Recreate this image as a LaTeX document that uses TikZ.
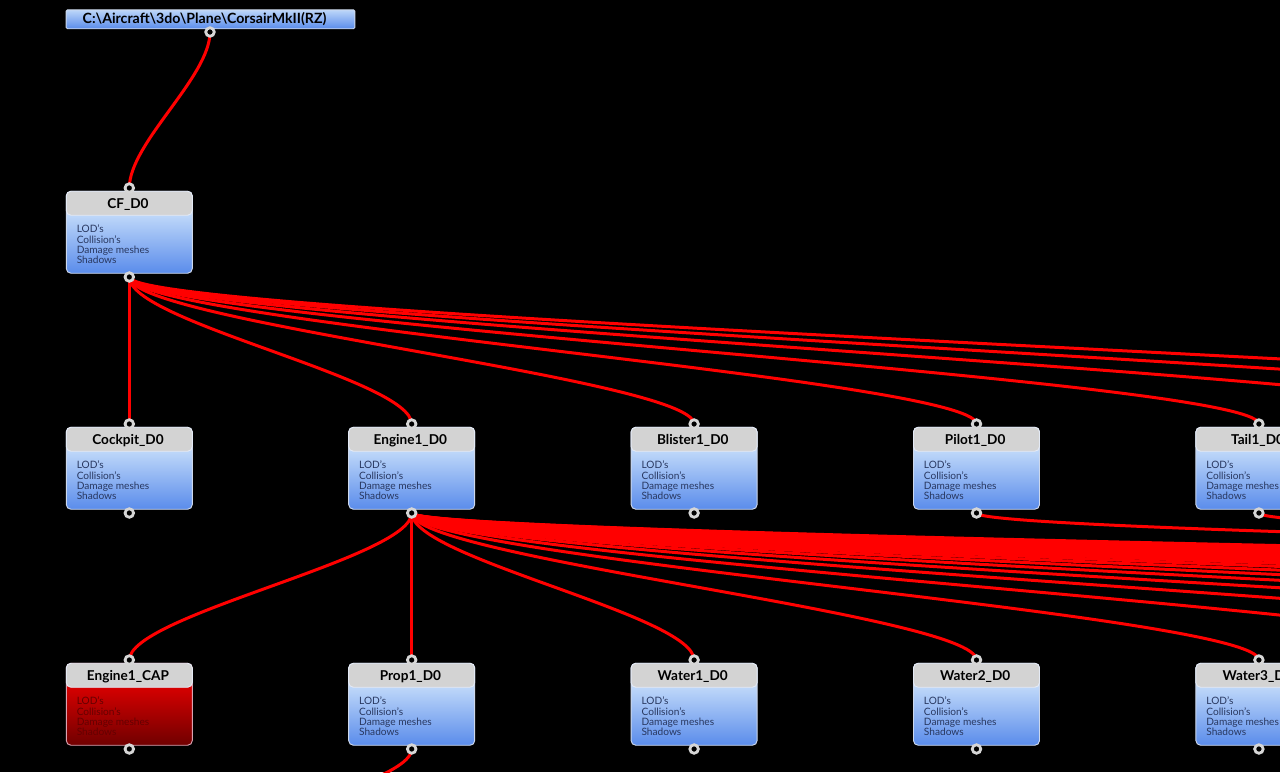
\documentclass[tikz,border=0pt]{standalone}
\usepackage{xcolor}
\usepackage{fontspec}
\usepackage{tikz}
\usetikzlibrary{calc,positioning,backgrounds}
\setmainfont{Lato}
\definecolor{headColor}{RGB}{211, 211, 211}
\definecolor{edgeColor}{RGB}{205, 216, 236}
\definecolor{blueTop}{RGB}{231, 246, 255}
\definecolor{blueBottom}{RGB}{90, 140, 235}
\definecolor{redTop}{RGB}{255, 0, 0}
\definecolor{redBottom}{RGB}{112, 0, 0}
\definecolor{listBlue}{RGB}{40, 55, 95}
\definecolor{listRed}{RGB}{100, 0, 0}
\definecolor{wireColor}{RGB}{255, 0, 0}
\definecolor{portColor}{RGB}{214, 214, 214}
\tikzset{
    lodbody/.style={draw=edgeColor, line width=0.7pt, rounded corners=3.5pt, minimum width=94.5pt, minimum height=61.5pt, inner sep=0pt, top color=blueTop, bottom color=blueBottom},
    lodbodyred/.style={lodbody, draw=red!25!edgeColor, top color=redTop, bottom color=redBottom},
    lodhead/.style={fill=headColor, draw=edgeColor!55!white, line width=0.7pt, rounded corners=3.5pt, minimum width=94.5pt, minimum height=18pt, inner sep=0pt, text height=8.4pt, text depth=0pt, font=\fontsize{10.2}{12}\bfseries\selectfont, text=black},
    lodlist/.style={align=left, inner sep=0pt, font=\fontsize{7.6}{7.7}\selectfont, text=listBlue},
    lodlistred/.style={lodlist, text=listRed},
    filebox/.style={draw=edgeColor, line width=0.7pt, rounded corners=1pt, minimum width=216.5pt, minimum height=14.2pt, inner sep=0pt, top color=blueTop!70!blueBottom, bottom color=blueBottom},
    filetext/.style={inner sep=0pt, font=\fontsize{10.6}{12}\bfseries\selectfont, text=black},
    port/.style={circle, draw=portColor, fill=black, line width=2.1pt, minimum size=6.4pt, inner sep=0pt},
    wire/.style={draw=wireColor, line width=2.25pt}
}
% one box of the graph: name, centre x, top y, title, body style, list style
\newcommand{\lodbox}[6]{
    \node[#5] (#1) at (#2,#3+41.25) {};
    \node[lodhead, anchor=north] (#1-head) at (#1.north) {\hspace{-2pt}#4};
    \node[#6, anchor=north west, xshift=8pt, yshift=-25.5pt] (#1-list) at (#1.north west) {LOD's\\Collision's\\Damage meshes\\Shadows};
    \node[port] (#1-in) at (#2,#3-3) {};
    \node[port] (#1-out) at (#2,#3+86) {};
}
\newcommand{\wireto}[2]{
    \draw[wire] (#1.center) .. controls +(0,45) and +(0,-45) .. (#2.center);
}
\begin{document}
\begin{tikzpicture}[x=0.75pt, y=-0.75pt]
    \useasboundingbox (0,0) rectangle (1280,772);
    \clip (0,0) rectangle (1280,772);

    % File box
    \node[filebox] (file) at (210.5,19.3) {};
    \node[filetext] (file-text) at (204.5,18.8) {C:\textbackslash Aircraft\textbackslash 3do\textbackslash Plane\textbackslash CorsairMkII(RZ)};
    \node[port] (file-out) at (210,32) {};

    % Root box
    \lodbox{cf}{129.3}{191}{CF\_D0}{lodbody}{lodlist}

    % Second row
    \lodbox{cockpit}{129.3}{427}{Cockpit\_D0}{lodbody}{lodlist}
    \lodbox{engine}{411.7}{427}{Engine1\_D0}{lodbody}{lodlist}
    \lodbox{blister}{694.1}{427}{Blister1\_D0}{lodbody}{lodlist}
    \lodbox{pilot}{976.5}{427}{Pilot1\_D0}{lodbody}{lodlist}
    \lodbox{tail}{1258.9}{427}{Tail1\_D0}{lodbody}{lodlist}

    % Third row
    \lodbox{enginecap}{129.3}{663}{Engine1\_CAP}{lodbodyred}{lodlistred}
    \lodbox{prop}{411.7}{663}{Prop1\_D0}{lodbody}{lodlist}
    \lodbox{water1}{694.1}{663}{Water1\_D0}{lodbody}{lodlist}
    \lodbox{water2}{976.5}{663}{Water2\_D0}{lodbody}{lodlist}
    \lodbox{water3}{1258.9}{663}{Water3\_D0}{lodbody}{lodlist}

    % Free ends beyond the frame
    \foreach \k in {5,...,7} {
        \pgfmathsetmacro{\kidx}{129.3+282.4*\k}
        \coordinate (rowtwo\k) at (\kidx,424);
    }
    \foreach \k in {5,...,26} {
        \pgfmathsetmacro{\kidx}{129.3+282.4*\k}
        \coordinate (rowthree\k) at (\kidx,660);
    }
    \coordinate (propkid) at (78,896);

    \begin{pgfonlayer}{background}
        \clip (0,0) rectangle (1280,772);
        \fill[black] (0,0) rectangle (1280,772);

        % Wires
        \wireto{file-out}{cf-in}
        \foreach \t in {cockpit,engine,blister,pilot,tail} {
            \wireto{cf-out}{\t-in}
        }
        \foreach \k in {5,...,7} {
            \wireto{cf-out}{rowtwo\k}
        }
        \foreach \t in {enginecap,prop,water1,water2,water3} {
            \wireto{engine-out}{\t-in}
        }
        \foreach \k in {5,...,24} {
            \wireto{engine-out}{rowthree\k}
        }
        \wireto{pilot-out}{rowthree25}
        \wireto{tail-out}{rowthree26}
        \wireto{prop-out}{propkid}
    \end{pgfonlayer}
\end{tikzpicture}
\end{document}
